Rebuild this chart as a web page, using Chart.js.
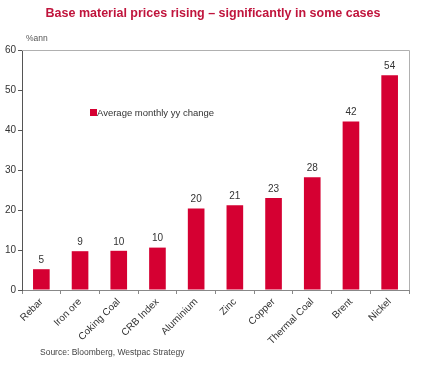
<!DOCTYPE html>
<html>
<head>
<meta charset="utf-8">
<script src="https://cdn.jsdelivr.net/npm/chart.js@4"></script>
<style>
  html, body { margin: 0; padding: 0; background: #fff; }
  #wrap { width: 423px; height: 366px; position: relative; }
</style>
</head>
<body>
<div id="wrap"><canvas id="chart"></canvas></div>
<script>
// dados
const categories = ['Rebar', 'Iron ore', 'Coking Coal', 'CRB Index', 'Aluminium', 'Zinc', 'Copper', 'Thermal Coal', 'Brent', 'Nickel'];
const changes = [5.2, 9.7, 9.8, 10.6, 20.4, 21.2, 23.0, 28.2, 42.1, 53.7];
const valueLabels = ['5', '9', '10', '10', '20', '21', '23', '28', '42', '54'];
const yTicks = [0, 10, 20, 30, 40, 50, 60];

const titleText = 'Base material prices rising \u2013 significantly in some cases';
const sourceText = 'Source: Bloomberg, Westpac Strategy';
const unitText = '%ann';
const seriesName = 'Average monthly yy change';

const FONT = '"Liberation Sans", Arial, sans-serif';
const RED = '#d50032';

// desenha título, rótulos, legenda e moldura
const extras = {
    id: 'extras',
    afterDatasetsDraw(chart) {
        const ctx = chart.ctx;
        const area = chart.chartArea;
        const meta = chart.getDatasetMeta(0);

        ctx.save();
        // valores acima das barras
        ctx.fillStyle = '#333';
        ctx.font = '10px ' + FONT;
        ctx.textAlign = 'center';
        ctx.textBaseline = 'bottom';
        meta.data.forEach((bar, i) => {
            ctx.fillText(valueLabels[i], bar.x, bar.y - 4);
        });

        // moldura superior e direita
        ctx.strokeStyle = '#b0b0b0';
        ctx.lineWidth = 1;
        ctx.beginPath();
        ctx.moveTo(area.left, area.top + 0.5);
        ctx.lineTo(area.right + 0.5, area.top + 0.5);
        ctx.lineTo(area.right + 0.5, area.bottom);
        ctx.stroke();

        // legenda dentro da área
        ctx.fillStyle = RED;
        ctx.fillRect(90, 109, 7, 7);
        ctx.fillStyle = '#333';
        ctx.font = '9.5px ' + FONT;
        ctx.textAlign = 'left';
        ctx.textBaseline = 'middle';
        ctx.fillText(seriesName, 97, 113);

        // título
        ctx.fillStyle = '#c0143c';
        ctx.font = 'bold 12.5px ' + FONT;
        ctx.textAlign = 'center';
        ctx.fillText(titleText, 213, 14);

        // unidade
        ctx.fillStyle = '#555';
        ctx.font = '8.5px ' + FONT;
        ctx.textAlign = 'left';
        ctx.fillText(unitText, 26, 39);

        // fonte
        ctx.fillStyle = '#444';
        ctx.font = '8.5px ' + FONT;
        ctx.fillText(sourceText, 40, 353);
        ctx.restore();
    }
};

const chart = new Chart(document.getElementById('chart'), {
    type: 'bar',
    data: {
        labels: categories,
        datasets: [{
            label: seriesName,
            data: changes,
            backgroundColor: RED,
            borderWidth: 0,
            barPercentage: 0.43,
            categoryPercentage: 1.0
        }]
    },
    options: {
        responsive: true,
        maintainAspectRatio: false,
        animation: false,
        layout: { padding: { top: 50, right: 14, left: 0, bottom: 0 } },
        plugins: {
            legend: { display: false },
            title: { display: false },
            tooltip: { enabled: false }
        },
        scales: {
            x: {
                grid: {
                    display: true,
                    offset: true,
                    drawOnChartArea: false,
                    drawTicks: true,
                    tickLength: 4,
                    color: '#888'
                },
                border: { color: '#888' },
                ticks: {
                    maxRotation: 45,
                    minRotation: 45,
                    color: '#333',
                    padding: 2,
                    font: { family: FONT, size: 10 }
                },
                afterFit: (scale) => { scale.height = 76; }
            },
            y: {
                min: 0,
                max: 60,
                afterBuildTicks: (scale) => { scale.ticks = yTicks.map(v => ({ value: v })); },
                grid: {
                    display: true,
                    drawOnChartArea: false,
                    drawTicks: true,
                    tickLength: 4,
                    color: '#555'
                },
                border: { color: '#555' },
                ticks: {
                    color: '#333',
                    padding: 2,
                    font: { family: FONT, size: 10 }
                },
                afterFit: (scale) => { scale.width = 22; }
            }
        }
    },
    plugins: [extras]
});
</script>
</body>
</html>
